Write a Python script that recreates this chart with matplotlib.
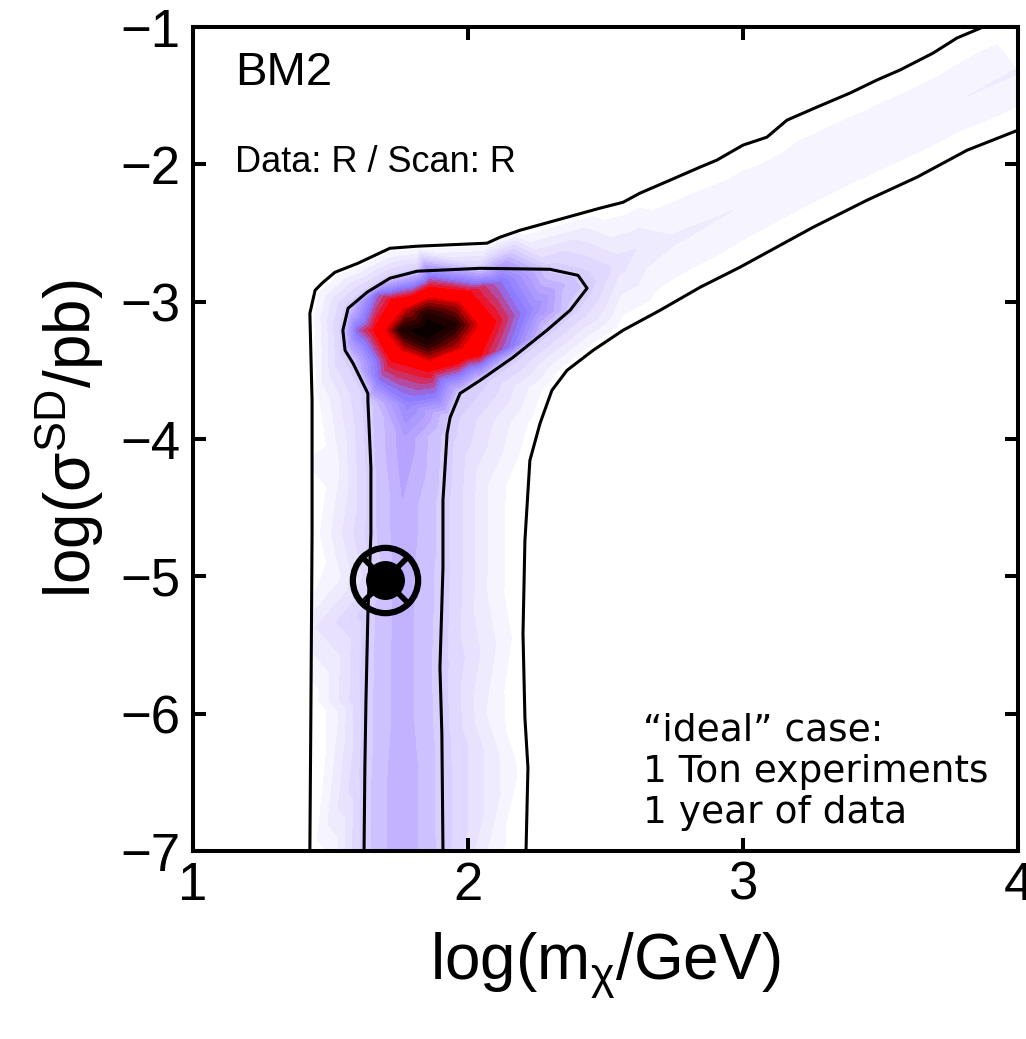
import numpy as np
import matplotlib
matplotlib.use("Agg")
import matplotlib.pyplot as plt
import matplotlib.tri as mtri
from matplotlib.colors import LinearSegmentedColormap, Normalize
from matplotlib.patches import Polygon

plt.rcParams['font.family'] = ['Liberation Sans', 'DejaVu Sans']
plt.rcParams['mathtext.fontset'] = 'custom'
plt.rcParams['mathtext.rm'] = 'Liberation Sans'

# contour lines (log m, log sigma)
# outer (2 sigma) line, upper/left branch
outer_a_x = [1.425, 1.429, 1.433, 1.433, 1.425, 1.444, 1.469, 1.516, 1.600, 1.716,
             1.815, 2.069, 2.116, 2.189, 2.480, 2.564, 2.625, 2.735, 2.844, 2.905,
             3.000, 3.087, 3.160, 3.269, 3.389, 3.487, 3.571, 3.691, 3.778, 3.873]
outer_a_y = [-7.0, -5.905, -4.688, -3.719, -3.085, -2.917, -2.866, -2.786, -2.720, -2.611,
             -2.596, -2.574, -2.531, -2.480, -2.319, -2.276, -2.210, -2.115, -2.020, -1.969,
             -1.860, -1.802, -1.678, -1.583, -1.481, -1.386, -1.313, -1.190, -1.080, -1.0]
# outer line, lower/right branch
outer_b_x = [4.0, 3.815, 3.633, 3.451, 3.255, 2.989, 2.844, 2.698, 2.564, 2.455,
             2.360, 2.305, 2.262, 2.225, 2.207, 2.200, 2.207, 2.218, 2.211]
outer_b_y = [-1.751, -1.897, -2.093, -2.261, -2.458, -2.749, -2.895, -3.063, -3.208, -3.354,
             -3.500, -3.646, -3.886, -4.156, -4.739, -5.417, -6.029, -6.394, -7.0]
# inner (1 sigma) line
inner_x = [1.622, 1.625, 1.629, 1.636, 1.647, 1.647, 1.636, 1.636, 1.582, 1.553,
           1.545, 1.564, 1.633, 1.716, 1.815, 2.044, 2.298, 2.400, 2.433, 2.371,
           2.287, 2.164, 2.044, 1.971, 1.935, 1.924, 1.909, 1.909, 1.898, 1.905, 1.909]
inner_y = [-7.0, -6.394, -5.905, -5.271, -4.688, -4.207, -3.719, -3.668, -3.449, -3.354,
           -3.208, -3.048, -2.931, -2.829, -2.778, -2.757, -2.764, -2.808, -2.902, -3.063,
           -3.208, -3.405, -3.573, -3.668, -3.843, -3.959, -4.447, -4.936, -5.665, -6.146, -7.0]
outer_level = 0.02
inner_level = 0.20

# posterior samples inside the band (relative density)
core_x = [1.76, 1.76, 1.76, 1.76, 1.76, 1.76, 1.77, 1.78,
          1.850,
          1.760, 1.851, 1.950, 1.851,
          1.715, 1.780, 1.860, 1.960, 2.020, 1.960, 1.860, 1.770,
          1.660, 1.725, 1.862, 2.000, 2.095, 2.040, 1.862, 1.720,
          1.600, 1.670, 1.862, 2.116, 2.225, 2.335, 2.150, 1.880, 1.680,
          2.55, 2.62]
core_y = [-7.0, -6.5, -6.0, -5.5, -5.0, -4.5, -4.0, -3.75,
          -3.21,
          -3.208, -3.095, -3.170, -3.300,
          -3.208, -3.060, -2.990, -3.020, -3.170, -3.330, -3.410, -3.340,
          -3.208, -2.990, -2.900, -2.930, -3.150, -3.390, -3.500, -3.420,
          -3.208, -2.950, -2.820, -2.860, -3.063, -2.880, -3.330, -3.680, -3.560,
          -2.72, -2.60]
core_v = [0.28, 0.28, 0.27, 0.27, 0.27, 0.28, 0.31, 0.40,
          1.00,
          0.95, 0.95, 0.95, 0.95,
          0.80, 0.80, 0.80, 0.80, 0.80, 0.80, 0.80, 0.80,
          0.60, 0.60, 0.60, 0.60, 0.60, 0.60, 0.60, 0.60,
          0.48, 0.47, 0.45, 0.46, 0.40, 0.26, 0.45, 0.44, 0.46,
          0.13, 0.11]

# pale fill edge between the contours of the vertical band
gap_x = [1.51, 1.51, 1.51, 1.51, 2.10, 2.10, 2.10, 2.10]
gap_y = [-7.0, -6.0, -5.0, -4.2, -7.0, -6.0, -5.0, -4.4]
gap_v = 0.056

# diagonal (high mass) band centre
diag_x = [2.75, 3.0, 3.25, 3.5, 3.75, 4.0]
diag_y = [-2.545, -2.30, -2.04, -1.80, -1.57, -1.32]
diag_v = [0.085, 0.078, 0.078, 0.078, 0.078, 0.082]

# empty region anchors
zero_x = [1.0, 1.0, 1.0, 1.2, 1.2, 2.0, 3.0, 2.6, 3.0, 4.0, 4.0, 3.2, 2.8, 2.6, 3.5, 4.0]
zero_y = [-7.0, -4.0, -1.0, -5.5, -2.0, -1.0, -1.0, -1.5, -7.0, -7.0, -4.0, -4.5, -5.8, -3.9, -3.0, -2.5]

truth_x, truth_y = 1.70, -5.03

pts_x = np.array(outer_a_x + outer_b_x + inner_x + core_x + gap_x + diag_x + zero_x)
pts_y = np.array(outer_a_y + outer_b_y + inner_y + core_y + gap_y + diag_y + zero_y)
pts_v = np.array([outer_level] * (len(outer_a_x) + len(outer_b_x)) + [inner_level] * len(inner_x)
                 + core_v + [gap_v] * len(gap_x) + diag_v + [0.0] * len(zero_x))

cmap = LinearSegmentedColormap.from_list('post', [
    (0.0, '#ffffff'), (0.05, '#f7f6ff'), (0.1, '#eeeaff'), (0.2, '#d8ceff'),
    (0.3, '#b8a4ff'), (0.45, '#8878ff'), (0.6, '#ff0000'), (0.75, '#ff0000'),
    (0.9, '#400000'), (1.0, '#000000')])

fig = plt.figure(figsize=(10.26, 10.39), dpi=100)
ax = fig.add_axes([0.1881, 0.1809, 0.8041, 0.7931])

# triangulate in roughly isotropic pixel space
tri = mtri.Triangulation(pts_x, pts_y, triangles=mtri.Triangulation(pts_x, pts_y * 0.5).triangles)
levels = np.linspace(0.045, 1.0, 29)
cs = ax.tricontourf(tri, pts_v, levels=levels, cmap=cmap, norm=Normalize(0, 1))
clip_x = outer_a_x + [4.0] + outer_b_x
clip_y = outer_a_y + [-1.0] + outer_b_y
clip = Polygon(np.column_stack([clip_x, clip_y]), closed=True, transform=ax.transData)
cs.set_clip_path(clip)

ax.plot(outer_a_x, outer_a_y, color='k', lw=2.2)
ax.plot(outer_b_x, outer_b_y, color='k', lw=2.2)
ax.plot(inner_x, inner_y, color='k', lw=2.2)

# benchmark point
ax.plot(truth_x, truth_y, 'o', ms=47, mfc='none', mec='k', mew=4.5, zorder=5)
ax.plot(truth_x, truth_y, 'x', ms=32, mec='k', mew=4.0, zorder=5)
ax.plot(truth_x, truth_y, 'o', ms=27, color='k', zorder=6)

ax.set_xlim(1, 4)
ax.set_ylim(-7, -1)
ax.set_xticks([1, 2, 3, 4])
ax.set_yticks([-7, -6, -5, -4, -3, -2, -1])
ax.tick_params(direction='in', length=9.5, width=2.9, top=True, right=True, labelsize=38)
ax.tick_params(axis='y', pad=9)
ax.tick_params(axis='x', pad=7)
for sp in ax.spines.values():
    sp.set_linewidth(2.9)

ax.set_xlabel(r'log(m$_\mathregular{χ}$/GeV)', fontsize=46, labelpad=14)
ax.set_ylabel(r'log(σ$^\mathregular{SD}$/pb)', fontsize=46, labelpad=10)

ax.text(1.153, -1.423, 'BM2', fontsize=34, va='baseline')
ax.text(1.153, -2.057, 'Data: R / Scan: R', fontsize=26, va='baseline')
ax.text(2.636, -6.794, '\u201cideal\u201d case:\n1 Ton experiments\n1 year of data',
        fontsize=27, family='DejaVu Sans', va='baseline', linespacing=1.18)

fig.savefig('out.png', dpi=100)
